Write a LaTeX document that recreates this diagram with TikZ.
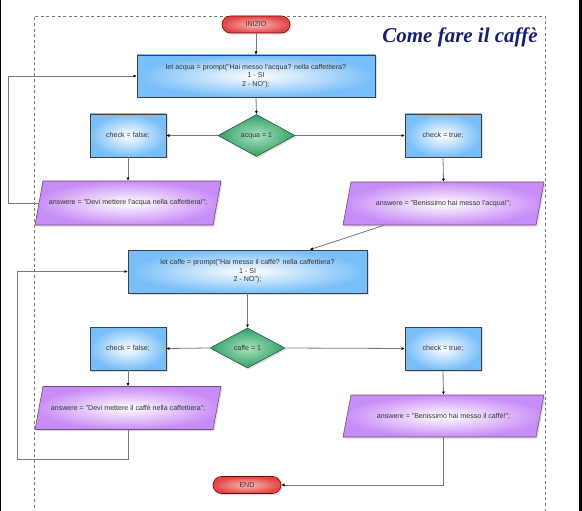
\documentclass[tikz,border=0pt]{standalone}
\usepackage{fontspec}
\setmainfont{Liberation Sans}
\newfontfamily\titlefont{Liberation Serif}
\usetikzlibrary{shapes.geometric,shapes.misc,shadows,arrows.meta,calc}
\definecolor{boxblue}{RGB}{120,190,248}
\definecolor{parviolet}{RGB}{200,140,246}
\definecolor{dgreen}{RGB}{50,160,100}
\definecolor{lgreen}{RGB}{170,225,195}
\definecolor{pillred}{RGB}{225,70,70}
\definecolor{pillred2}{RGB}{255,185,185}
\definecolor{titleblue}{RGB}{22,32,112}
\definecolor{linegray}{RGB}{120,120,120}
\tikzset{
  shd/.style={drop shadow={shadow xshift=1.5pt,shadow yshift=-1.5pt,opacity=0.25}},
  txt/.style={font=\fontsize{7.1}{8.6}\selectfont,text=black!80,align=center},
  procbox/.style={txt,shd,rectangle,draw=black!75,line width=0.6pt,inner color=white,outer color=boxblue,inner sep=0pt},
  ioshape/.style={shd,draw=violet!45!black!70,line width=0.6pt,inner color=white,outer color=parviolet},
  iotext/.style={txt,rectangle,inner sep=0pt},
  decbox/.style={txt,shd,diamond,draw=dgreen!60!black,line width=0.6pt,inner color=lgreen,outer color=dgreen,inner sep=0pt},
  termbox/.style={txt,shd,rounded rectangle,draw=red!50!black,line width=0.6pt,inner color=pillred2,outer color=pillred,inner sep=0pt,minimum width=68pt,minimum height=17pt},
  conn/.style={draw=linegray,line width=0.8pt},
  arr/.style={conn,-{Latex[length=3.2pt,width=3pt,color=black]}}
}
% #1 name, #2 x, #3 y, #4 width, #5 height, #6 text
\newcommand\myparabox[6]{%
  \path[ioshape] ({#2-#4/2+8},{#3-#5/2}) -- ({#2+#4/2},{#3-#5/2}) -- ({#2+#4/2-8},{#3+#5/2}) -- ({#2-#4/2},{#3+#5/2}) -- cycle;
  \node[iotext,minimum width=#4pt,minimum height=#5pt] (#1) at (#2,#3) {#6};
}
\begin{document}
\begin{tikzpicture}[x=1pt,y=-1pt]
\useasboundingbox (0,0) rectangle (582,511);
\fill[white] (0,0) rectangle (582,511);
\fill[black] (0,0) rectangle (1.3,511);
\fill[black] (579,0) rectangle (582,511);
\draw[linegray,line width=0.8pt,dash pattern=on 3pt off 2.6pt] (34,530) -- (34,16) -- (545,16) -- (545,530);

\node[font=\titlefont\bfseries\itshape\fontsize{21}{24}\selectfont,text=titleblue] (title) at (460,37) {Come fare il caffè};

\node[termbox] (inizio) at (256,24.5) {INIZIO};
\node[procbox,minimum width=238pt,minimum height=42pt] (box1) at (256,76) {let acqua = prompt("Hai messo l'acqua? nella caffettiera?\\1 - SI\\2 - NO");};
\node[decbox,minimum width=77pt,minimum height=42pt,aspect=1.83] (d1) at (256.5,135.5) {acqua = 1};
\node[procbox,minimum width=76pt,minimum height=43pt] (f1) at (128,135.5) {check = false;};
\node[procbox,minimum width=76pt,minimum height=43pt] (t1) at (443,135.5) {check = true;};
\myparabox{p1}{128}{203}{186}{44}{answere = "Devi mettere l'acqua nella caffettiera!";}
\myparabox{p2}{443.5}{203.5}{201}{43}{answere = "Benissimo hai messo l'acqua!";}

\node[procbox,minimum width=239pt,minimum height=43pt] (box2) at (247.5,271.5) {let caffe = prompt("Hai messo il caffè? nella caffettiera?\\1 - SI\\2 - NO");};
\node[decbox,minimum width=75pt,minimum height=40pt,aspect=1.87] (d2) at (247.5,348) {caffe = 1};
\node[procbox,minimum width=76pt,minimum height=43pt] (f2) at (128,348.5) {check = false;};
\node[procbox,minimum width=76pt,minimum height=43pt] (t2) at (443,348.5) {check = true;};
\myparabox{p3}{128}{408}{186}{43}{answere = "Devi mettere il caffè nella caffettiera";}
\myparabox{p4}{443.5}{416}{201}{42}{answere = "Benissimo hai messo il caffè!";}
\node[termbox] (fine) at (247,485) {END};

\coordinate (lx1) at (8.5,0);
\coordinate (lx2) at (17.5,0);
\coordinate (ly2) at (0,459);

\draw[arr] (inizio.south) -- (box1.north);
\draw[arr] (box1.south) -- (d1.north);
\draw[arr] (d1.west) -- (f1.east);
\draw[arr] (d1.east) -- (t1.west);
\draw[arr] (f1.south) -- (p1.north);
\draw[arr] (t1.south) -- (p2.north);
\draw[arr] ([xshift=4pt]p1.west) -- (p1.west -| lx1) |- (box1.west);
\draw[arr] ($(p2.south west)!0.206!(p2.south east)$) -- ($(box2.north west)!0.76!(box2.north east)$);
\draw[arr] (box2.south) -- (d2.north);
\draw[arr] (d2.west) -- (f2.east);
\draw[arr] (d2.east) -- (t2.west);
\draw[arr] (f2.south) -- (p3.north);
\draw[arr] (t2.south) -- (p4.north);
\draw[arr] (p3.south) -- (p3.south |- ly2) -| (lx2 |- box2.west) -- (box2.west);
\draw[arr] (p4.south) |- (fine.east);
\end{tikzpicture}
\end{document}
